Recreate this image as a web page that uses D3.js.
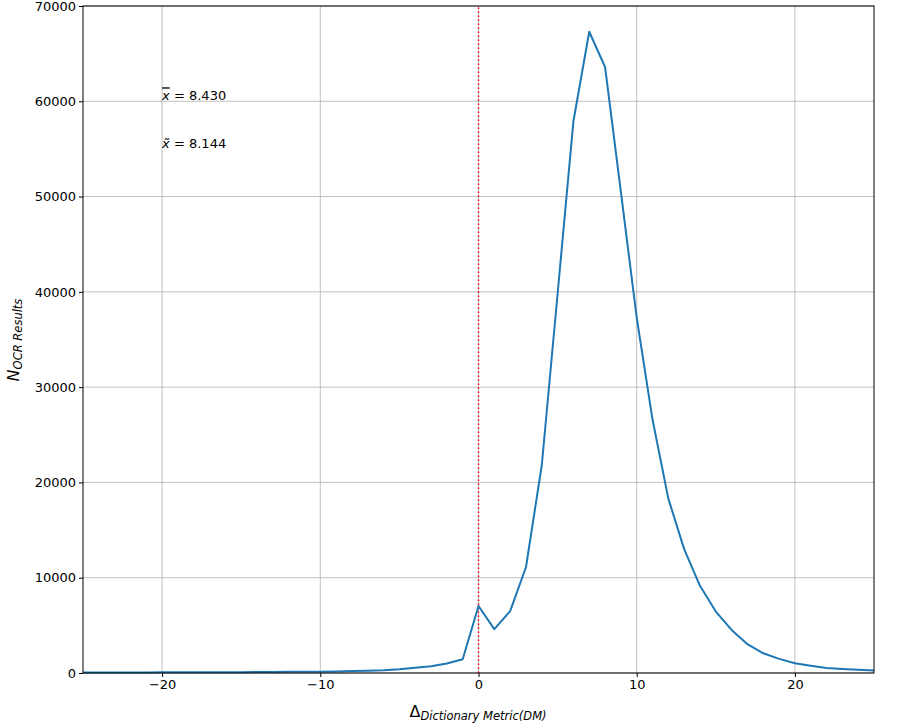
<!DOCTYPE html>
<html><head><meta charset="utf-8">
<script src="https://cdn.jsdelivr.net/npm/d3@7"></script>
<style>body{margin:0;background:#fff;} svg{display:block;font-family:"DejaVu Sans",sans-serif;}</style>
</head><body>
<script>
const deltaValues = [-25,-24,-23,-22,-21,-20,-19,-18,-17,-16,-15,-14,-13,-12,-11,-10,-9,-8,-7,-6,-5,-4,-3,-2,-1,0,1,2,3,4,5,6,7,8,9,10,11,12,13,14,15,16,17,18,19,20,21,22,23,24,25];
const counts = [40,45,50,55,60,70,70,75,80,85,90,100,110,120,130,140,170,200,240,300,400,550,700,1000,1450,7030,4600,6500,11100,21800,39800,57900,67300,63600,50500,37300,26600,18300,13000,9150,6450,4520,3020,2070,1480,1020,760,530,430,340,260];
const xTicks = [-20,-10,0,10,20];
const yTicks = [0,10000,20000,30000,40000,50000,60000,70000];
const annotations = [{sym:"x", deco:"overline", text:" = 8.430", x:-20, y:60100},{sym:"x\u0303", deco:"none", text:" = 8.144", x:-20, y:55100}];

const W=923,H=724, m={l:83,r:49,t:6,b:51};
const svg=d3.select("body").append("svg").attr("width",W).attr("height",H);
const x=d3.scaleLinear().domain([-25,25]).range([m.l,W-m.r]);
const y=d3.scaleLinear().domain([0,70000]).range([H-m.b,m.t]);
const g=svg.append("g");
g.selectAll(".gx").data(xTicks).enter().append("line").attr("x1",d=>x(d)).attr("x2",d=>x(d)).attr("y1",y(0)).attr("y2",y(70000)).attr("stroke","#b0b0b0").attr("stroke-width",0.8);
g.selectAll(".gy").data(yTicks).enter().append("line").attr("y1",d=>y(d)).attr("y2",d=>y(d)).attr("x1",x(-25)).attr("x2",x(25)).attr("stroke","#b0b0b0").attr("stroke-width",0.8);
g.append("line").attr("x1",x(0)).attr("x2",x(0)).attr("y1",y(0)).attr("y2",y(70000)).attr("stroke","red").attr("stroke-width",1.5).attr("stroke-dasharray","1.5,2.5");
const line=d3.line().x((d,i)=>x(deltaValues[i])).y(d=>y(d));
g.append("path").datum(counts).attr("d",line).attr("fill","none").attr("stroke","#1f77b4").attr("stroke-width",2).attr("stroke-linejoin","round");
const fmt=d=>d<0?"\u2212"+Math.abs(d):String(d);
const xa=svg.append("g").attr("transform",`translate(0,${y(0)})`).call(d3.axisBottom(x).tickValues(xTicks).tickFormat(fmt).tickSize(4).tickPadding(3));
const ya=svg.append("g").attr("transform",`translate(${x(-25)},0)`).call(d3.axisLeft(y).tickValues(yTicks).tickFormat(d=>String(d)).tickSize(4).tickPadding(3));
[xa,ya].forEach(a=>{a.selectAll("text").attr("font-size",13).attr("font-family","DejaVu Sans").attr("fill","#000");a.selectAll("line").attr("stroke","#000");a.select(".domain").remove();});
svg.append("rect").attr("x",x(-25)).attr("y",y(70000)).attr("width",x(25)-x(-25)).attr("height",y(0)-y(70000)).attr("fill","none").attr("stroke","#000").attr("stroke-width",1);
annotations.forEach(a=>{
  const t=svg.append("text").attr("x",x(a.x)).attr("y",y(a.y)).attr("font-size",13).attr("fill","#000").attr("xml:space","preserve");
  t.append("tspan").attr("font-style","italic").style("text-decoration",a.deco).text(a.sym);
  t.append("tspan").text(a.text);
});
const xl=svg.append("text").attr("x",478).attr("y",717).attr("text-anchor","middle").attr("font-size",16).attr("fill","#000");
xl.append("tspan").text("Δ");
xl.append("tspan").attr("font-size",11.5).attr("font-style","italic").attr("dy",3).text("Dictionary Metric(DM)");
const yl=svg.append("text").attr("transform","translate(19,340) rotate(-90)").attr("text-anchor","middle").attr("font-size",16).attr("fill","#000");
yl.append("tspan").attr("font-style","italic").text("N");
yl.append("tspan").attr("font-size",11.5).attr("font-style","italic").attr("dy",3).text("OCR Results");
</script>
</body></html>
